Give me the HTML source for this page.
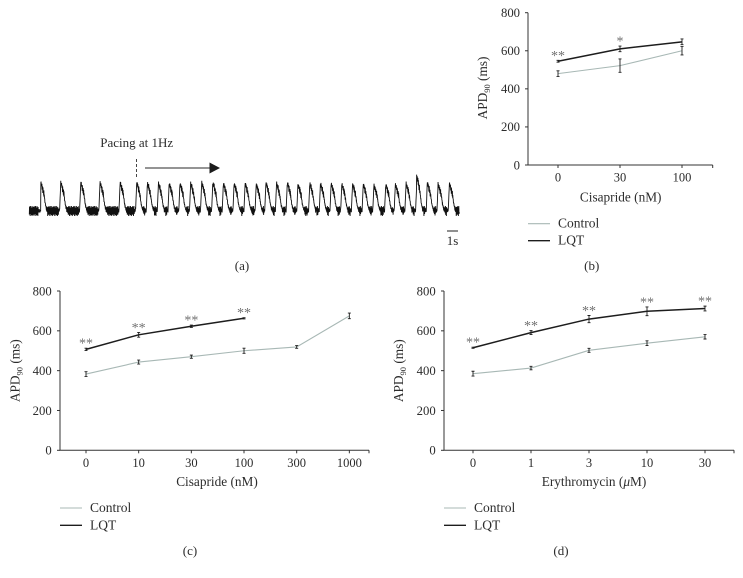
<!DOCTYPE html>
<html lang="en">
<head>
<meta charset="utf-8">
<title>APD90 figure</title>
<style>
html,body{margin:0;padding:0;background:#fff;}
body{width:743px;height:578px;overflow:hidden;}
svg{display:block;}
text{font-family:"Liberation Serif",serif;fill:#2c2c2c;}
</style>
</head>
<body>
<svg id="figure" width="743" height="578" viewBox="0 0 743 578" xmlns="http://www.w3.org/2000/svg">
  <g id="panel-a">
    <text x="136.7" y="147" font-size="13" text-anchor="middle">Pacing at 1Hz</text>
    <line x1="136.5" y1="159" x2="136.5" y2="177" stroke="#333" stroke-width="0.9" stroke-dasharray="3 2"/>
    <line x1="145" y1="168" x2="211" y2="168" stroke="#555" stroke-width="1.3"/>
    <polygon points="209.5,162.5 220,168 209.5,173.5" fill="#1c1c1c"/>
    <line x1="447" y1="231" x2="458" y2="231" stroke="#222" stroke-width="1"/>
    <text x="452.5" y="245" font-size="13" text-anchor="middle">1s</text>
    <text x="242" y="270" font-size="13" text-anchor="middle">(a)</text>
  </g>
</svg>
<script>
// Panel (a) trace: beat onset times (s) and peak heights (arbitrary units)
var beatOnsets = [1.07,2.93,4.8,6.6,8.48,10.03,11.03,12.06,13.06,14.07,15.07,16.1,17.14,18.13,19.13,20.16,21.2,22.1,23.1,24.1,25.1,26.2,27.2,28.2,29.2,30.2,31.2,32.2,33.3,34.2,35.2,36.2,37.2,38.2,39.25];
var beatPeaks = [29,29,29,29,29,29,28,28,28,28,28,29,29,28,28,28,27,29,28,29,27,28,28,28,27,27,27,26,27,27,28,35,28,27,28];
var traceNoise = [0.7,-0.9,0.4,-0.5,1,-0.2,-1,0.6,0.2,-0.7,0.9,-0.4,0.5,-1,0.8,0.1,-0.6,1,-0.8,0.3,-0.3,0.75,-0.95];

// Panel (b)
var bCategories = ['0','30','100'];
var bControl = [480,522,600];
var bControlErr = [15,35,22];
var bLqt = [545,610,647];
var bLqtErr = [5,15,15];
var bStars = ['**','*',''];

// Panel (c)
var cCategories = ['0','10','30','100','300','1000'];
var cControl = [383,443,470,500,519,675];
var cControlErr = [12,10,8,13,7,14];
var cLqt = [507,580,623,663];
var cLqtErr = [6,12,6,3];
var cStars = ['**','**','**','**'];

// Panel (d)
var dCategories = ['0','1','3','10','30'];
var dControl = [385,413,502,538,570];
var dControlErr = [12,9,10,12,11];
var dLqt = [515,591,659,698,712];
var dLqtErr = [3,10,18,22,12];
var dStars = ['**','**','**','**','**'];

var yTicks = [0,200,400,600,800];

var NS = 'http://www.w3.org/2000/svg';
var figure = document.getElementById('figure');

function make(tag, parent, attrs, text) {
  var el = document.createElementNS(NS, tag);
  for (var k in attrs) { el.setAttribute(k, attrs[k]); }
  if (text !== undefined) { el.textContent = text; }
  parent.appendChild(el);
  return el;
}

function drawTrace() {
  var parent = document.getElementById('panel-a');
  var xOf = function (t) { return 29.3 + t * 10.7; };
  var d = '';
  var i = 0;
  for (var t = 0; t <= 40.2; t += 0.02) {
    var last = -10, peak = 0, next = 100;
    for (var b = 0; b < beatOnsets.length; b++) {
      if (beatOnsets[b] <= t) { last = beatOnsets[b]; peak = beatPeaks[b]; }
      else { next = beatOnsets[b]; break; }
    }
    var s = t - last;
    var level = 0, amp = 5;
    if (next - t < 0.1) {
      level = (0.1 - (next - t)) / 0.1 * 0.9; amp = 0.6;
    } else if (s < 0.12) {
      level = 1 - s / 0.12 * 0.15; amp = 2.2;
    } else if (s < 0.32) {
      level = 0.85 - (s - 0.12) / 0.2 * 0.3; amp = 3.6;
    } else if (s < 0.42) {
      level = 0.55 - (s - 0.32) / 0.1 * 0.3; amp = 1.4;
    } else if (s < 0.55) {
      level = 0.25 - (s - 0.42) / 0.13 * 0.2; amp = 1.0;
    } else if (s < 0.65) {
      level = 0.05; amp = 3;
    } else if (next - t < 0.2) {
      level = 0.02; amp = 2;
    }
    var noise = traceNoise[i % traceNoise.length] * amp;
    var y = 211 - level * peak + noise;
    d += (i === 0 ? 'M' : 'L') + xOf(t).toFixed(2) + ' ' + y.toFixed(2);
    i++;
  }
  var path = make('path', parent, {d: d, fill: 'none', stroke: '#111', 'stroke-width': 0.9});
  
  
}

function drawSeries(g, values, errs, xOf, yOf, color, width, label) {
  var pts = values.map(function (v, i) { return xOf(i).toFixed(2) + ',' + yOf(v).toFixed(2); }).join(' ');
  var line = make('polyline', g, {points: pts, fill: 'none', stroke: color, 'stroke-width': width});
  
  
  values.forEach(function (v, i) {
    var x = xOf(i), top = yOf(v + errs[i]), bot = yOf(v - errs[i]);
    var eb = make('path', g, {
      d: 'M' + (x - 1.5) + ' ' + top + 'H' + (x + 1.5) + 'M' + x + ' ' + top + 'V' + bot + 'M' + (x - 1.5) + ' ' + bot + 'H' + (x + 1.5),
      fill: 'none', stroke: '#1e1e1e', 'stroke-width': 0.9
    });
    
    
  });
}

function drawPanel(cfg) {
  var g = make('g', figure, {});
  
  

  var yOf = function (v) { return cfg.y0 - v / 800 * (cfg.y0 - cfg.y800); };
  var xOf = function (i) { return cfg.first + i * cfg.step; };

  var axes = make('path', g, {
    d: 'M' + cfg.left + ' ' + cfg.y800 + 'V' + cfg.y0 + 'H' + cfg.right,
    fill: 'none', stroke: '#333', 'stroke-width': 1
  });
  
  

  yTicks.forEach(function (v) {
    var y = yOf(v);
    var tick = make('line', g, {x1: cfg.left - 3, x2: cfg.left, y1: y, y2: y, stroke: '#333', 'stroke-width': 1});
    
    
    var lab = make('text', g, {x: cfg.yLabelX, y: y + 4.3, 'font-size': 12.7, 'text-anchor': 'end'}, String(v));
    
    
  });

  cfg.categories.forEach(function (c, i) {
    var x = xOf(i);
    var tick = make('line', g, {x1: x, x2: x, y1: cfg.y0, y2: cfg.y0 + 3, stroke: '#333', 'stroke-width': 1});
    
    
    var lab = make('text', g, {x: x, y: cfg.y0 + 16.5, 'font-size': 12.5, 'text-anchor': 'middle'}, c);
    
    
  });
  var endTick = make('line', g, {x1: cfg.right, x2: cfg.right, y1: cfg.y0, y2: cfg.y0 + 3, stroke: '#333', 'stroke-width': 1});
  
  

  var yTitle = make('text', g, {
    transform: 'translate(' + cfg.yTitleX + ',' + cfg.yTitleY + ') rotate(-90)',
    'font-size': 13.3, 'text-anchor': 'middle'
  });
  
  
  make('tspan', yTitle, {}, 'APD');
  make('tspan', yTitle, {'font-size': 8.5, dy: 3}, '90');
  make('tspan', yTitle, {dy: -3}, ' (ms)');

  var xTitle = make('text', g, {x: cfg.xTitleX, y: cfg.xTitleY, 'font-size': 13.3, 'text-anchor': 'middle'});
  
  
  cfg.xTitle.forEach(function (part) {
    make('tspan', xTitle, part.italic ? {'font-style': 'italic'} : {}, part.text);
  });

  drawSeries(g, cfg.control, cfg.controlErr, xOf, yOf, '#a8b8b5', 1.1, 'control');
  drawSeries(g, cfg.lqt, cfg.lqtErr, xOf, yOf, '#1d1d1d', 1.5, 'lqt');

  cfg.stars.forEach(function (s, i) {
    if (!s) { return; }
    var star = make('text', g, {
      x: xOf(i), y: yOf(cfg.lqt[i] + cfg.lqtErr[i]) - 0.5,
      'font-size': 14, 'text-anchor': 'middle', style: 'fill:#707070'
    }, s);
    
    
  });

  var l1 = make('line', g, {x1: cfg.left, x2: cfg.left + 22, y1: cfg.legendY1, y2: cfg.legendY1, stroke: '#a8b8b5', 'stroke-width': 1.1});
  
  
  var t1 = make('text', g, {x: cfg.left + 30, y: cfg.legendY1 + 4, 'font-size': 13.5}, 'Control');
  
  
  var l2 = make('line', g, {x1: cfg.left, x2: cfg.left + 22, y1: cfg.legendY2, y2: cfg.legendY2, stroke: '#1d1d1d', 'stroke-width': 1.3});
  
  
  var t2 = make('text', g, {x: cfg.left + 30, y: cfg.legendY2 + 4, 'font-size': 13.5}, 'LQT');
  
  

  var cap = make('text', g, {x: cfg.capX, y: cfg.capY, 'font-size': 13, 'text-anchor': 'middle'}, cfg.caption);
  
  
}

drawTrace();

drawPanel({
  name: 'panel-b-chart', categories: bCategories, control: bControl, controlErr: bControlErr,
  lqt: bLqt, lqtErr: bLqtErr, stars: bStars,
  left: 528, right: 712.7, y0: 165, y800: 12.7, first: 558, step: 62,
  yLabelX: 520, yTitleX: 487, yTitleY: 88, xTitleX: 620.7, xTitleY: 201.7,
  xTitle: [{text: 'Cisapride (nM)'}], legendY1: 223.7, legendY2: 240.7,
  caption: '(b)', capX: 591.7, capY: 270
});
drawPanel({
  name: 'panel-c-chart', categories: cCategories, control: cControl, controlErr: cControlErr,
  lqt: cLqt, lqtErr: cLqtErr, stars: cStars,
  left: 60, right: 369, y0: 450.3, y800: 291, first: 86, step: 52.67,
  yLabelX: 51.7, yTitleX: 19.5, yTitleY: 370.7, xTitleX: 217, xTitleY: 486,
  xTitle: [{text: 'Cisapride (nM)'}], legendY1: 508, legendY2: 525.3,
  caption: '(c)', capX: 190, capY: 555
});
drawPanel({
  name: 'panel-d-chart', categories: dCategories, control: dControl, controlErr: dControlErr,
  lqt: dLqt, lqtErr: dLqtErr, stars: dStars,
  left: 444, right: 734, y0: 450.3, y800: 291, first: 473, step: 58,
  yLabelX: 435.7, yTitleX: 403, yTitleY: 370.7, xTitleX: 594, xTitleY: 486,
  xTitle: [{text: 'Erythromycin ('}, {text: '\u03bc', italic: true}, {text: 'M)'}], legendY1: 508, legendY2: 525.3,
  caption: '(d)', capX: 561, capY: 555
});
</script>
</body>
</html>
